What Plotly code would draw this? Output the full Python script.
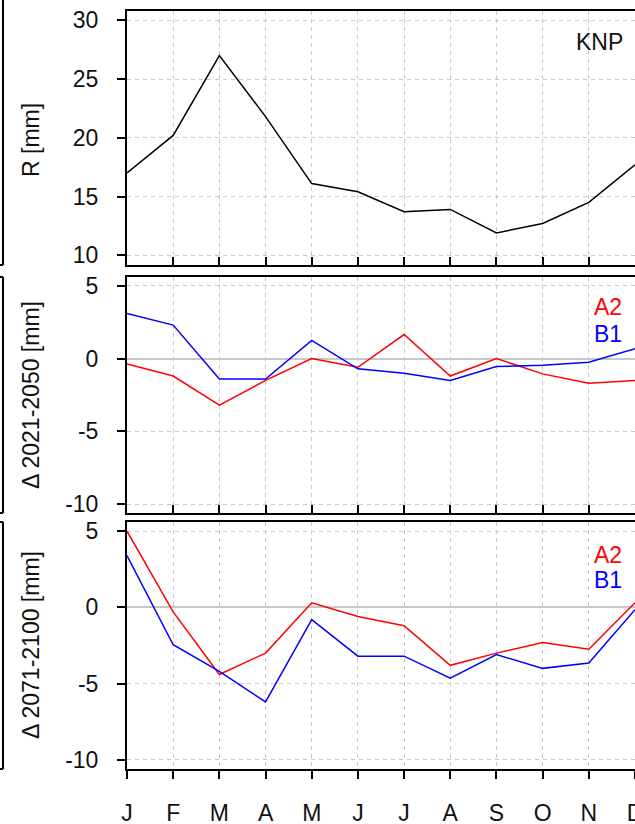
import plotly.graph_objects as go

months = ["J", "F", "M", "A", "M", "J", "J", "A", "S", "O", "N", "D"]
month_pos = list(range(1, 13))

R_knp = [17.0, 20.2, 27.0, 21.8, 16.1, 15.4, 13.7, 13.9, 11.9, 12.7, 14.5, 17.7]

d2050_A2 = [-0.37, -1.2, -3.2, -1.5, 0.0, -0.6, 1.65, -1.2, 0.0, -1.05, -1.7, -1.5]
d2050_B1 = [3.1, 2.3, -1.4, -1.4, 1.25, -0.7, -1.0, -1.5, -0.55, -0.45, -0.25, 0.67]

d2100_A2 = [5.0, -0.3, -4.4, -3.0, 0.3, -0.6, -1.2, -3.8, -3.0, -2.3, -2.75, 0.3]
d2100_B1 = [3.4, -2.45, -4.2, -6.2, -0.8, -3.2, -3.2, -4.65, -3.1, -4.0, -3.65, -0.15]

y_ticks_top = [10, 15, 20, 25, 30]
y_ticklabels_top = ["10", "15", "20", "25", "30"]
y_ticks_delta = [-10, -5, 0, 5]
y_ticklabels_delta = ["-10", "-5", "0", "5"]

W, H = 635, 824
FONT = "Liberation Sans, Arial, sans-serif"
FS = 23
GRID = "#c8c8c8"
GRIDDASH = "4px,4px"


def py(px_top, px_bottom):
    return [(H - px_bottom) / H, (H - px_top) / H]


dom_top = py(10.5, 265)
dom_mid = py(277, 513)
dom_bot = py(522, 769)
x_dom = [127 / W, 1.0]

fig = go.Figure()

fig.add_trace(go.Scatter(x=month_pos, y=R_knp, mode="lines",
                         line=dict(color="black", width=1.5),
                         xaxis="x", yaxis="y", showlegend=False))
fig.add_trace(go.Scatter(x=month_pos, y=d2050_A2, mode="lines",
                         line=dict(color="#ff0000", width=1.5),
                         xaxis="x2", yaxis="y2", showlegend=False))
fig.add_trace(go.Scatter(x=month_pos, y=d2050_B1, mode="lines",
                         line=dict(color="#0000ff", width=1.5),
                         xaxis="x2", yaxis="y2", showlegend=False))
fig.add_trace(go.Scatter(x=month_pos, y=d2100_A2, mode="lines",
                         line=dict(color="#ff0000", width=1.5),
                         xaxis="x3", yaxis="y3", showlegend=False))
fig.add_trace(go.Scatter(x=month_pos, y=d2100_B1, mode="lines",
                         line=dict(color="#0000ff", width=1.5),
                         xaxis="x3", yaxis="y3", showlegend=False))


def xaxis(anchor, labels, ticks):
    return dict(domain=x_dom, anchor=anchor, range=[1, 12], automargin=False,
                tickmode="array", tickvals=month_pos,
                ticktext=months if labels else [""] * 12,
                showticklabels=labels, ticklabeloverflow="allow",
                ticks=ticks, ticklen=8, tickwidth=2, tickcolor="black",
                showline=True, mirror=True, linecolor="black", linewidth=2,
                showgrid=True, gridcolor=GRID, griddash=GRIDDASH, gridwidth=1.3,
                zeroline=False,
                tickfont=dict(family=FONT, size=FS, color="#111"),
                ticklabelstandoff=14)


def yaxis(anchor, dom, rng, tv, tt):
    return dict(domain=dom, anchor=anchor, range=rng, automargin=False,
                tickmode="array", tickvals=tv, ticktext=tt,
                ticklabeloverflow="allow",
                ticks="outside", ticklen=8, tickwidth=2, tickcolor="black",
                showline=True, mirror=True, linecolor="black", linewidth=2,
                showgrid=True, gridcolor=GRID, griddash=GRIDDASH, gridwidth=1.3,
                zeroline=True, zerolinecolor=GRID, zerolinewidth=2,
                tickfont=dict(family=FONT, size=FS, color="#111"),
                ticklabelstandoff=14)


annotations = []
for text, yc in [("R [mm]", 140), ("\u0394 2021-2050 [mm]", 395), ("\u0394 2071-2100 [mm]", 645)]:
    annotations.append(dict(text=text, xref="paper", yref="paper",
                            x=31 / W, y=(H - yc) / H, xanchor="center", yanchor="middle",
                            textangle=-90, showarrow=False,
                            font=dict(family=FONT, size=FS, color="#111")))
for text, col, xc, yc in [("KNP", "#111", 599, 42),
                          ("A2", "#ff0000", 608, 307), ("B1", "#0000ff", 608, 334),
                          ("A2", "#ff0000", 608, 555), ("B1", "#0000ff", 608, 580)]:
    annotations.append(dict(text=text, xref="paper", yref="paper",
                            x=xc / W, y=(H - yc) / H, xanchor="center", yanchor="middle",
                            showarrow=False, font=dict(family=FONT, size=FS, color=col)))

# fragment of neighbouring panel frames at left edge
shapes = []
for t, b in [(0, 265), (277, 513), (522, 769)]:
    shapes.append(dict(type="line", xref="paper", yref="paper",
                       x0=3 / W, x1=3 / W, y0=(H - t) / H, y1=(H - b) / H,
                       line=dict(color="black", width=2)))
    shapes.append(dict(type="line", xref="paper", yref="paper",
                       x0=0, x1=3 / W, y0=(H - b) / H, y1=(H - b) / H,
                       line=dict(color="black", width=2)))
    if t > 0:
        shapes.append(dict(type="line", xref="paper", yref="paper",
                           x0=0, x1=3 / W, y0=(H - t) / H, y1=(H - t) / H,
                           line=dict(color="black", width=2)))

fig.update_layout(
    width=W, height=H,
    margin=dict(l=0, r=0, t=0, b=0, pad=0, autoexpand=False),
    paper_bgcolor="white", plot_bgcolor="white",
    xaxis=xaxis("y", False, "inside"),
    xaxis2=xaxis("y2", False, "inside"),
    xaxis3=xaxis("y3", True, "outside"),
    yaxis=yaxis("x", dom_top, [9.17, 30.83], y_ticks_top, y_ticklabels_top),
    yaxis2=yaxis("x2", dom_mid, [-10.6, 5.6], y_ticks_delta, y_ticklabels_delta),
    yaxis3=yaxis("x3", dom_bot, [-10.6, 5.6], y_ticks_delta, y_ticklabels_delta),
    annotations=annotations,
    shapes=shapes,
)

fig.write_html("out.html", config={"displayModeBar": False},
               post_script="document.body.style.margin='0';document.body.style.overflow='hidden';")
